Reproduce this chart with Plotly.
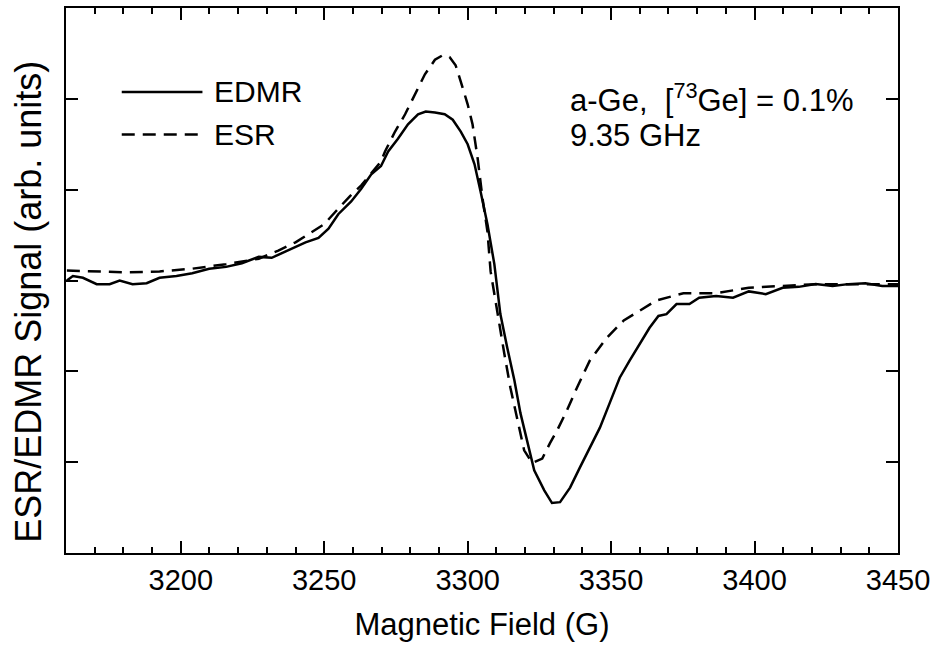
import plotly.graph_objects as go

# ---------------- data ----------------
edmr_field = [3160.3, 3162.4, 3165.9, 3170.7, 3175.2, 3178.7, 3183.2, 3188.1, 3192.6, 3198.5,
              3204.0, 3209.9, 3215.8, 3221.3, 3227.2, 3231.7, 3236.6, 3243.5, 3248.0, 3251.5,
              3254.9, 3259.4, 3262.9, 3266.4, 3269.8, 3272.3, 3275.7, 3279.2, 3282.7, 3285.4,
              3288.6, 3292.0, 3294.8, 3297.6, 3300.0, 3302.4, 3304.5, 3306.9, 3309.3, 3311.4,
              3313.8, 3316.3, 3318.4, 3320.8, 3323.2, 3326.7, 3329.4, 3332.2, 3335.7, 3339.1,
              3342.6, 3346.1, 3349.5, 3353.0, 3356.5, 3359.9, 3363.4, 3366.5, 3369.3, 3372.8,
              3377.3, 3380.7, 3386.6, 3392.5, 3398.0, 3403.9, 3409.8, 3415.4, 3421.3, 3427.2,
              3432.7, 3438.6, 3444.5, 3450.0]
edmr_signal = [0.00, 0.05, 0.03, -0.04, -0.04, 0.00, -0.04, -0.03, 0.03, 0.05,
               0.08, 0.13, 0.15, 0.19, 0.26, 0.25, 0.32, 0.42, 0.47, 0.57,
               0.73, 0.87, 1.01, 1.17, 1.26, 1.42, 1.56, 1.72, 1.83, 1.86,
               1.85, 1.83, 1.77, 1.64, 1.50, 1.28, 0.98, 0.62, 0.18, -0.37,
               -0.74, -1.10, -1.46, -1.79, -2.09, -2.31, -2.45, -2.44, -2.28, -2.06,
               -1.84, -1.62, -1.35, -1.07, -0.88, -0.70, -0.52, -0.39, -0.37, -0.26,
               -0.26, -0.19, -0.17, -0.19, -0.12, -0.15, -0.08, -0.07, -0.04, -0.06,
               -0.04, -0.03, -0.06, -0.06]

esr_field = [3160.3, 3169.4, 3181.1, 3192.6, 3204.0, 3215.8, 3227.2, 3234.0, 3240.0, 3245.0,
             3250.0, 3254.0, 3259.0, 3263.0, 3267.8, 3269.8, 3271.2, 3274.7, 3278.2, 3281.6,
             3285.1, 3288.6, 3291.3, 3293.7, 3295.8, 3297.6, 3300.0, 3301.7, 3303.5, 3305.2,
             3306.9, 3308.0, 3310.4, 3312.8, 3314.9, 3317.3, 3319.7, 3322.5, 3326.0, 3328.7,
             3331.2, 3334.6, 3338.1, 3342.6, 3348.5, 3354.4, 3359.9, 3365.8, 3375.2, 3386.6,
             3398.0, 3409.8, 3421.3, 3432.7, 3450.0]
esr_signal = [0.11, 0.10, 0.09, 0.10, 0.13, 0.18, 0.24, 0.33, 0.42, 0.52,
              0.62, 0.76, 0.93, 1.05, 1.23, 1.31, 1.42, 1.64, 1.83, 2.05,
              2.27, 2.43, 2.48, 2.46, 2.37, 2.19, 1.94, 1.72, 1.34, 0.90,
              0.54, 0.10, -0.37, -0.81, -1.18, -1.54, -1.87, -2.01, -1.96, -1.79,
              -1.65, -1.43, -1.18, -0.88, -0.63, -0.44, -0.33, -0.22, -0.14, -0.14,
              -0.08, -0.06, -0.04, -0.04, -0.04]

x_ticks = [3200, 3250, 3300, 3350, 3400, 3450]
series_names = ["EDMR", "ESR"]
note_line1 = "a-Ge,  [<sup>73</sup>Ge] = 0.1%"
note_line2 = "9.35 GHz"
x_title = "Magnetic Field (G)"
y_title = "ESR/EDMR Signal (arb. units)"

# ---------------- figure ----------------
FONT = "Liberation Sans, Arial, sans-serif"
fig = go.Figure()
fig.add_trace(go.Scatter(x=edmr_field, y=edmr_signal, mode="lines", name=series_names[0],
                         line=dict(color="black", width=2.5), showlegend=False))
fig.add_trace(go.Scatter(x=esr_field, y=esr_signal, mode="lines", name=series_names[1],
                         line=dict(color="black", width=2.5, dash="13px,8px"), showlegend=False))

axis_common = dict(showline=True, linecolor="black", linewidth=2, mirror="allticks",
                   ticks="inside", ticklen=12, tickwidth=1.8, tickcolor="black",
                   showgrid=False, zeroline=False)

fig.update_xaxes(range=[3160, 3450], tickvals=x_ticks, ticktext=[str(v) for v in x_ticks],
                 minor=dict(dtick=10, tick0=3160, ticks="inside", ticklen=6, tickwidth=1.8,
                            tickcolor="black", showgrid=False),
                 tickfont=dict(family=FONT, size=29, color="black"),
                 title=dict(text=x_title, font=dict(family=FONT, size=31, color="black"), standoff=19),
                 **axis_common)
fig.update_yaxes(range=[-3, 3], dtick=1, tick0=0, showticklabels=False, **axis_common)

# y-axis title as a rotated annotation
fig.add_annotation(xref="paper", yref="paper", x=-0.045, y=0.46, xanchor="center", yanchor="middle",
                   text=y_title, textangle=-90, showarrow=False,
                   font=dict(family=FONT, size=36, color="black"))

# legend drawn as layout decoration (paper coordinates)
fig.add_shape(type="line", xref="paper", yref="paper", x0=0.067, x1=0.164, y0=0.846, y1=0.846,
              line=dict(color="black", width=2.5))
fig.add_shape(type="line", xref="paper", yref="paper", x0=0.067, x1=0.164, y0=0.768, y1=0.768,
              line=dict(color="black", width=2.5, dash="13px,8px"))
fig.add_annotation(xref="paper", yref="paper", x=0.176, y=0.846, xanchor="left", yanchor="middle",
                   text=series_names[0], showarrow=False, font=dict(family=FONT, size=30, color="black"))
fig.add_annotation(xref="paper", yref="paper", x=0.176, y=0.768, xanchor="left", yanchor="middle",
                   text=series_names[1], showarrow=False, font=dict(family=FONT, size=30, color="black"))
fig.add_annotation(xref="paper", yref="paper", x=0.603, y=0.835, xanchor="left", yanchor="middle",
                   text=note_line1, showarrow=False, font=dict(family=FONT, size=31, color="black"))
fig.add_annotation(xref="paper", yref="paper", x=0.603, y=0.766, xanchor="left", yanchor="middle",
                   text=note_line2, showarrow=False, font=dict(family=FONT, size=31, color="black"))

fig.update_layout(width=936, height=646, margin=dict(l=66, r=33, t=6, b=93),
                  plot_bgcolor="white", paper_bgcolor="white",
                  font=dict(family=FONT, color="black"))

fig.write_html("out.html")
